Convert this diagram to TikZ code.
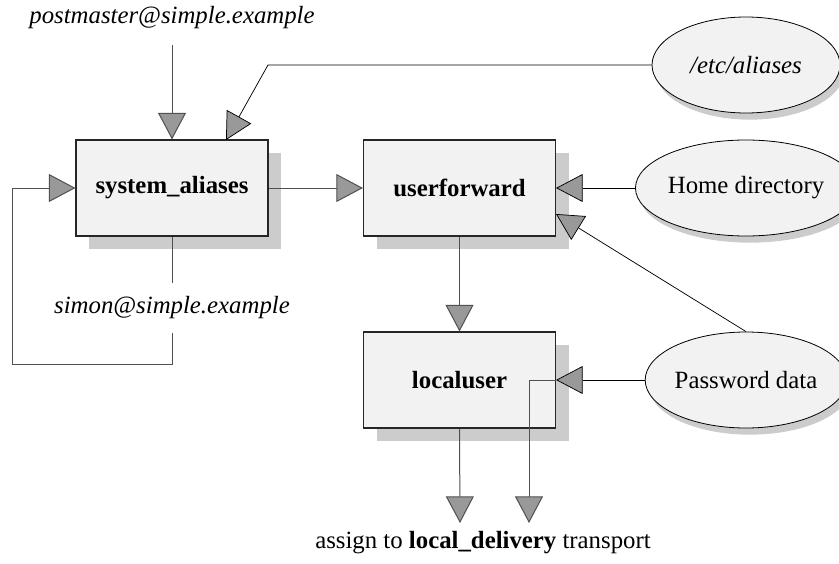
\documentclass[tikz,border=0pt]{standalone}
\usepackage{fontspec}
\setmainfont{Liberation Serif}
\usetikzlibrary{arrows.meta,shapes.geometric,shadows}

\definecolor{boxfill}{HTML}{F2F2F2}
\definecolor{shadowgray}{HTML}{CCCCCC}
\definecolor{tipgray}{HTML}{999999}
\definecolor{linegray}{HTML}{505050}
\newcommand{\diafont}{\fontsize{18.6pt}{22pt}\selectfont}

\tikzset{
  router/.style={draw=black!85, line width=0.8pt, fill=boxfill,
    minimum width=144pt, minimum height=72pt, inner sep=0pt, font=\diafont\bfseries,
    general shadow={fill=shadowgray, shadow xshift=9.75pt, shadow yshift=-9.75pt}},
  source/.style={ellipse, draw=black, line width=0.6pt, fill=boxfill,
    minimum width=141pt, minimum height=72pt, inner sep=0pt,
    general shadow={fill=shadowgray, shadow xshift=3pt, shadow yshift=-5pt}},
  flow/.style={draw=linegray, line width=0.75pt,
    -{Triangle[length=20pt, width=21pt, fill=tipgray]}},
  feed/.style={flow, draw=black, line width=0.55pt},
  plain/.style={draw=linegray, line width=0.75pt},
}

\begin{document}
\begin{tikzpicture}[x=0.75pt, y=-0.75pt, font=\diafont]
    \useasboundingbox (0,0) rectangle (839,564);

    % routers
    \node[router] (sa) at (172,188) {system\_aliases};
    \node[router] (uf) at (459.5,188) {userforward};
    \node[router] (lu) at (459.5,380) {localuser};

    % data sources
    \node[source] (etc) at (746,65) {\itshape /etc/aliases};
    \node[source] (home) at (746,188) {Home directory};
    \node[source] (pw) at (746,380) {Password data};

    % addresses
    \node[minimum height=40.5pt, inner sep=0pt] (pm) at (172,18) {\itshape postmaster@simple.example};
    \node[minimum height=36.75pt, inner sep=0pt] (simon) at (172,308) {\itshape simon@simple.example};
    \node (dest) at (483,543) {assign to \textbf{local\_delivery} transport};

    % bends and free ends
    \coordinate (etcbend) at (268,65);
    \coordinate (etctip) at (226,140);
    \coordinate (loopcorner) at (12,364);
    \coordinate (ufin) at (556,214);
    \coordinate (outA) at (460,523);
    \coordinate (outB) at (529,523);

    % connectors
    \draw[flow] (pm.south) -- (sa.north);
    \draw[feed] (etc.west) -- (etcbend) -- (etctip);
    \draw[plain] (sa.south) -- (simon.north);
    \draw[flow] (simon.south) |- (loopcorner) |- (sa.west);
    \draw[flow] (sa.east) -- (uf.west);
    \draw[feed] (home.west) -- (uf.east);
    \draw[feed] (pw.north) -- (ufin);
    \draw[flow] (uf.south) -- (lu.north);
    \draw[feed] (pw.west) -- (lu.east);
    \draw[flow] (lu.east) -| (outB);
    \draw[flow] (lu.south) -- (outA);
\end{tikzpicture}
\end{document}
